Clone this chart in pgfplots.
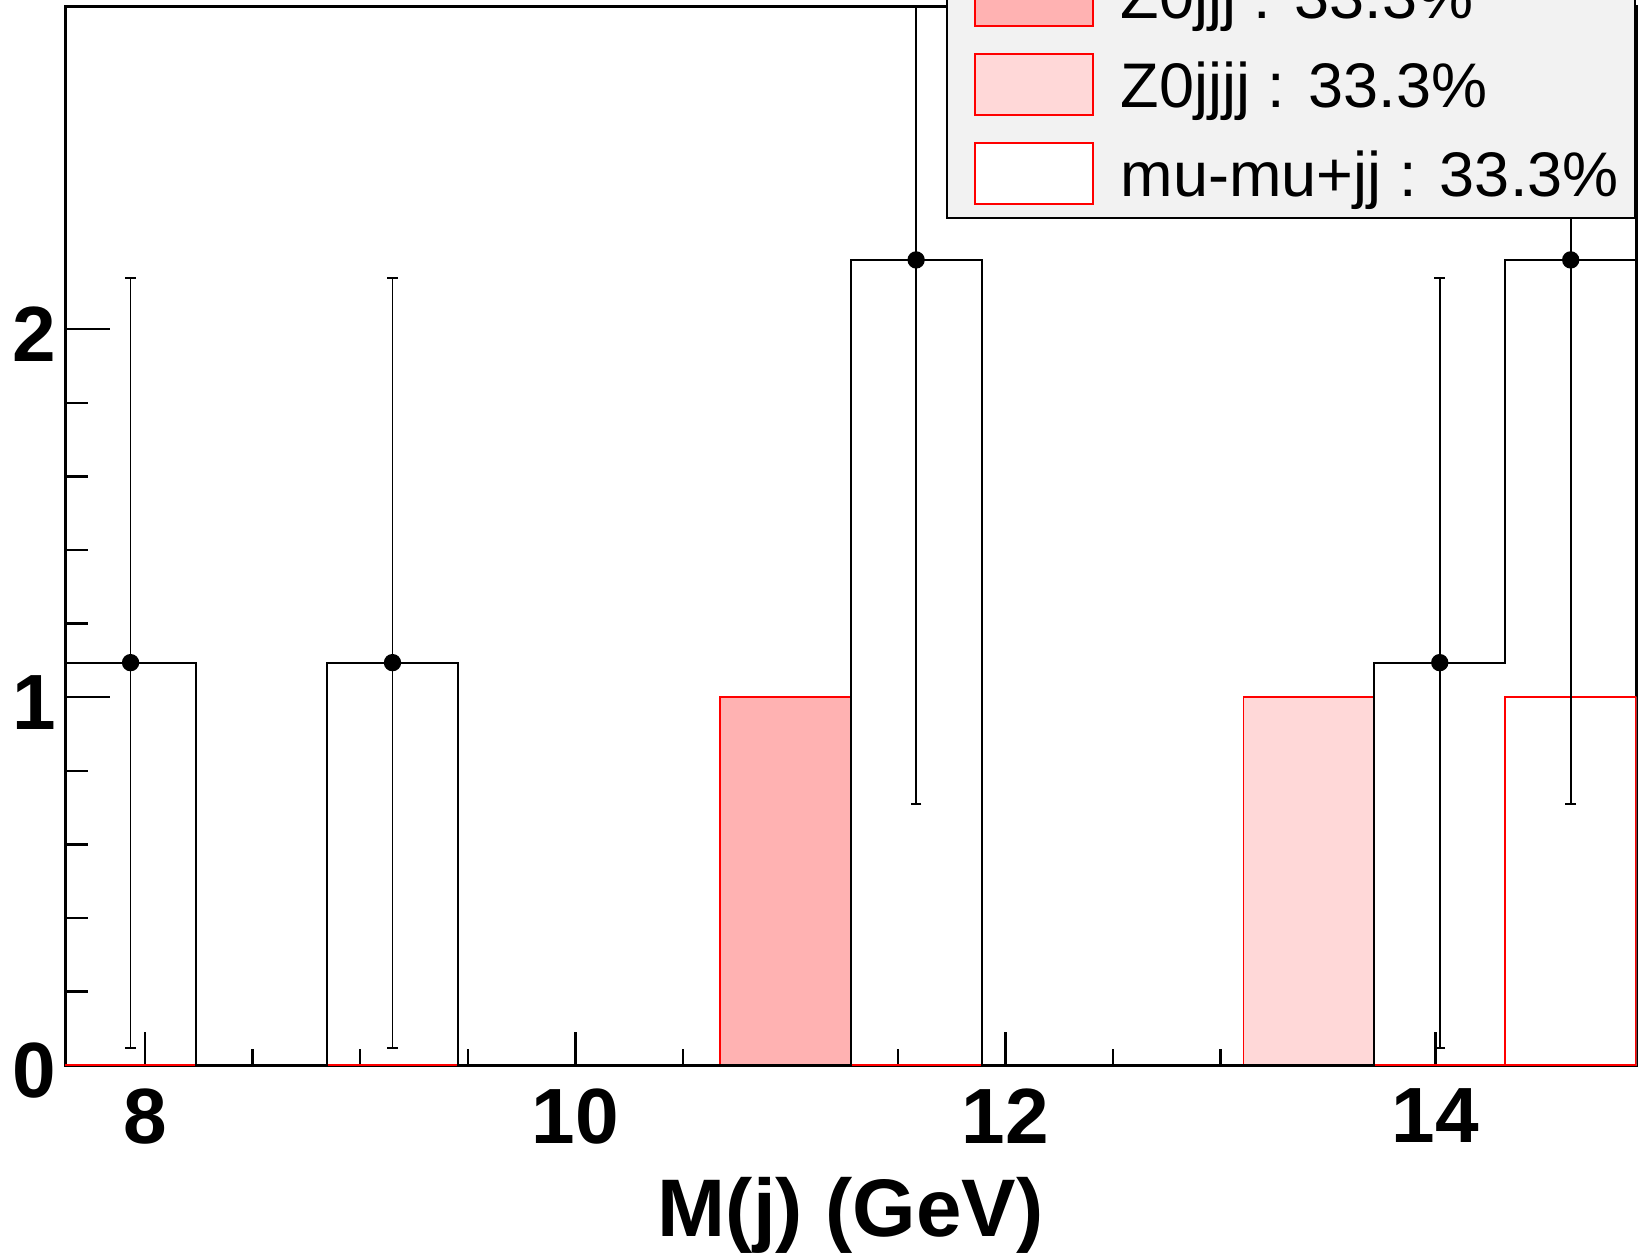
\documentclass[border=0pt]{standalone}
\usepackage{fontspec}
\setmainfont{Liberation Sans}
\usepackage{pgfplots}
\pgfplotsset{compat=1.18}
\definecolor{zjjj}{HTML}{FFB2B2}
\definecolor{zjjjj}{HTML}{FFD8D8}
\definecolor{legbg}{HTML}{F2F2F2}
\begin{document}
\begin{tikzpicture}
\begin{axis}[
  scale only axis, width=471.3pt, height=317.7pt,
  xmin=7.628, xmax=14.934, ymin=0, ymax=2.877,
  axis line style={line width=0.9pt},
  xtick={8,10,12,14}, minor x tick num=3,
  ytick={0,1,2}, minor y tick num=4,
  tick align=inside,
  xtick pos=bottom, ytick pos=left,
  xtick style={line width=0.75pt, black, /pgfplots/major tick length=10pt, /pgfplots/minor tick length=4.8pt},
  ytick style={line width=0.75pt, black, /pgfplots/major tick length=13.5pt, /pgfplots/minor tick length=6.8pt},
  /pgf/number format/assume math mode=true,
  ticklabel style={font=\fontsize{23.5}{27}\selectfont\bfseries},
  xticklabel style={yshift=-3.4pt},
  yticklabel style={xshift=0.8pt, yshift=-1.5pt},
  xlabel={M(j) (GeV)},
  xlabel style={font=\fontsize{24.5}{29}\selectfont\bfseries, at={(axis description cs:0.5,0)}, anchor=base, yshift=-51.2pt},
  legend cell align=left,
  legend style={
    at={(1,0.799)}, anchor=south east,
    fill=legbg, draw=black, line width=0.6pt,
    inner xsep=5pt, inner ysep=0pt,
    font=\fontsize{18.9}{23}\selectfont,
    row sep=0pt, column sep=8pt,
    nodes={inner sep=0pt, text height=20.2pt, text depth=6.5pt},
  },
]
\coordinate (BL) at (rel axis cs:0,0);
\coordinate (TR) at (rel axis cs:1,1);
\addplot[const plot, draw=red, line width=0.55pt, fill=zjjj,
  legend image code/.code={\path (-3.25pt,0pt); \draw[draw=red, fill=zjjj, line width=0.6pt] (0pt,-9.15pt) rectangle (35.4pt,9.15pt);}]
  coordinates {(7.628,0) (10.672,1) (11.281,0) (14.934,0)} \closedcycle;
\addlegendentry{Z0jjj : 33.3\%}
\addplot[const plot, draw=red, line width=0.55pt, fill=zjjjj,
  legend image code/.code={\path (-3.25pt,0pt); \draw[draw=red, fill=zjjjj, line width=0.6pt] (0pt,-9.15pt) rectangle (35.4pt,9.15pt);}]
  coordinates {(7.628,0) (13.107,1) (13.716,0) (14.934,0)} \closedcycle;
\addlegendentry{Z0jjjj : 33.3\%}
\addplot[const plot, draw=red, line width=0.55pt, fill=white,
  legend image code/.code={\path (-3.25pt,0pt); \draw[draw=red, fill=white, line width=0.6pt] (0pt,-9.15pt) rectangle (35.4pt,9.15pt);}]
  coordinates {(7.628,0) (14.325,1) (14.934,1)} \closedcycle;
\addlegendentry{mu-mu+jj : 33.3\%}
\addplot[const plot, black, line width=0.6pt, forget plot]
  coordinates {(7.628,1.094) (8.237,0) (8.846,1.094) (9.454,0) (11.281,2.188) (11.890,0) (13.716,1.094) (14.325,2.188) (14.934,2.188)};
\addplot[only marks, mark=*, mark size=2.4pt, black, forget plot,
  error bars/.cd, y dir=both, y explicit,
  error bar style={line width=0.55pt},
  error mark options={rotate=90, mark size=1.6pt, line width=0.55pt}]
  coordinates {(7.932,1.094) +- (0,1.046) (9.150,1.094) +- (0,1.046) (11.585,2.188) +- (0,1.479) (14.020,1.094) +- (0,1.046) (14.629,2.188) +- (0,1.479)};
\end{axis}
\pgfresetboundingbox
\useasboundingbox ([xshift=-19.56pt,yshift=-57.84pt]BL) rectangle ([xshift=3.81pt,yshift=1.89pt]TR);
\end{tikzpicture}
\end{document}
